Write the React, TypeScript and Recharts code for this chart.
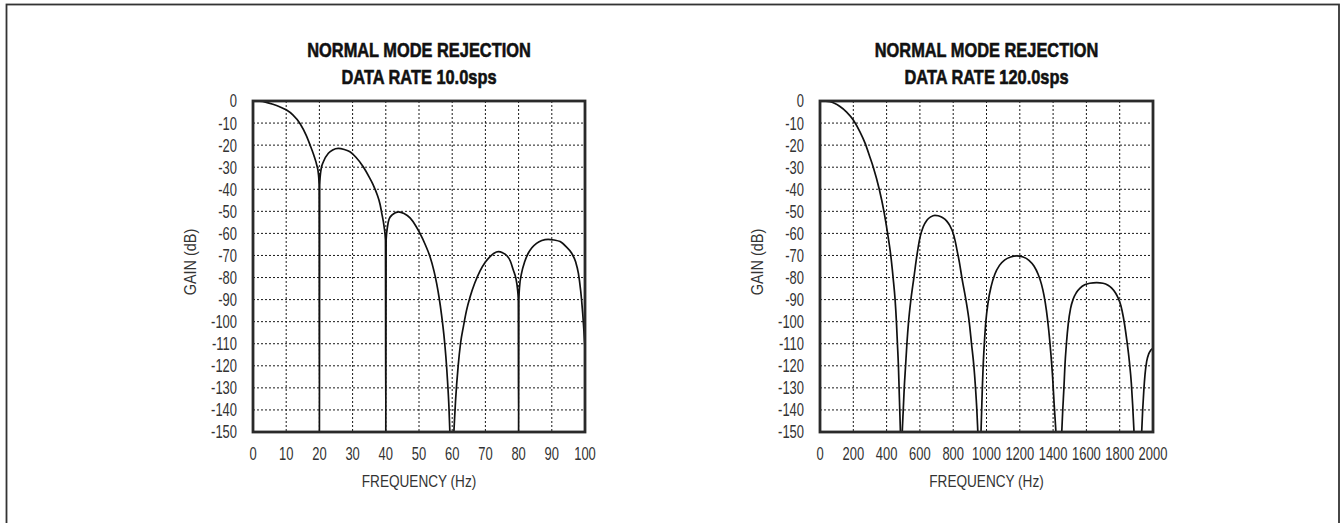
import React from 'react';
import { LineChart, Line, XAxis, YAxis, CartesianGrid } from 'recharts';

// ---- data ----
const leftFreq = [0, 2, 4, 6, 8, 10, 12, 14.2, 16, 17.2, 18.3, 19.2, 19.7, 19.92, 20, 20.08, 20.5, 21.2, 22.7, 24, 25.7, 27.5, 29.2, 31, 33.2, 35, 36.2, 37.3, 38.3, 38.8, 39.5, 39.9, 40, 40.1, 40.5, 41, 42, 43.8, 45.5, 47.3, 49, 50.3, 52, 53.3, 54.5, 55.3, 56.1, 56.8, 57.5, 58.1, 58.6, 59, 59.3, 59.9, 60.5, 61, 61.8, 62.5, 63.4, 64.3, 65.4, 66.8, 68.4, 70, 71.4, 72.6, 73.9, 75.2, 76.4, 77.5, 78.4, 79.2, 79.7, 79.92, 80, 80.08, 80.3, 80.9, 81.8, 82.9, 84, 85.4, 87, 88.9, 90.7, 92.5, 94.3, 96, 97.2, 98, 98.7, 99.3, 100];
const leftGain = [0, -0.1, -0.6, -1.5, -2.6, -4, -6.3, -10.3, -15.5, -20, -24.5, -29, -33, -38, -150, -38, -31, -27.5, -23.7, -22.2, -21.5, -22, -23, -25.5, -29.8, -34.5, -38, -42, -47, -51, -57, -63, -150, -63, -57, -53.5, -51.5, -50.2, -51, -53, -56.5, -60, -65.5, -70.5, -77, -82.5, -89.5, -97, -106, -116, -127, -138, -150, -165, -150, -136, -120, -110, -102, -95, -88.7, -82.5, -77, -73, -70.5, -69, -68.3, -68.8, -70, -72.5, -76.6, -80.5, -85.6, -90, -150, -90, -84, -78, -73, -69, -66.5, -64.5, -63.2, -62.7, -63, -63.7, -66, -69, -73, -78, -86, -96, -112];

const rightFreq = [0, 60, 120, 160, 200, 240, 270, 300, 320, 356, 384, 406, 425, 439, 451, 459, 465, 471, 475, 479, 483, 488, 494, 500, 506, 514, 522, 532, 546, 564, 582, 600, 620, 642, 665, 690, 710, 735, 760, 780, 798, 812, 824, 837, 852, 876, 896, 910, 924, 934, 942, 948, 957, 967, 971, 975, 980, 987, 996, 1010, 1028, 1050, 1078, 1110, 1145, 1181, 1220, 1255, 1285, 1310, 1330, 1345, 1360, 1374, 1386, 1397, 1406, 1417, 1434, 1452, 1458, 1465, 1471, 1480, 1491, 1505, 1522, 1540, 1562, 1590, 1620, 1662, 1700, 1730, 1752, 1775, 1792, 1808, 1822, 1842, 1858, 1870, 1878, 1886, 1909, 1932, 1938, 1945, 1952, 1962, 1975, 1986, 2000];
const rightGain = [0, -0.3, -2.5, -5, -8.6, -14, -19, -25.5, -30, -40, -50, -60, -70, -80, -90, -100, -110, -120, -130, -140, -150, -165, -150, -140, -130, -120, -110, -100, -90, -80, -70, -62, -57, -54, -52.5, -51.8, -52, -52.8, -54.3, -56.5, -59.5, -63.5, -68, -73, -80, -90, -100, -110, -120, -130, -140, -150, -165, -150, -140, -130, -120, -110, -100, -91, -84, -78.5, -74.5, -72, -70.7, -70.2, -70.7, -72.2, -74.8, -78.5, -83, -88, -95, -104, -114, -125, -137, -150, -175, -150, -140, -130, -120, -110, -101, -94, -89.5, -86.8, -84.8, -83.3, -82.6, -82.3, -82.6, -83.5, -84.8, -87, -89.5, -93, -98, -108, -118, -128, -138, -150, -172, -150, -140, -131, -124, -118, -114.5, -113, -112];

const leftTicksX = [0, 10, 20, 30, 40, 50, 60, 70, 80, 90, 100];
const rightTicksX = [0, 200, 400, 600, 800, 1000, 1200, 1400, 1600, 1800, 2000];
const ticksY = [0, -10, -20, -30, -40, -50, -60, -70, -80, -90, -100, -110, -120, -130, -140, -150];

const titleLine1 = 'NORMAL MODE REJECTION';
const leftTitle2 = 'DATA RATE 10.0sps';
const rightTitle2 = 'DATA RATE 120.0sps';
const xLabel = 'FREQUENCY (Hz)';
const yLabel = 'GAIN (dB)';

const FONT = "'Liberation Sans', Arial, sans-serif";
const TICK_SX = 0.72;

const leftData = leftFreq.map((f, i) => ({ f, g: leftGain[i] }));
const rightData = rightFreq.map((f, i) => ({ f, g: rightGain[i] }));

type NTProps = {
  x: number;
  y: number;
  text: string;
  anchor?: 'start' | 'middle' | 'end';
  size: number;
  weight?: string;
  fill?: string;
  dy?: string;
  rotate?: number;
  sx?: number;
  stroke?: number;
};

function NarrowText({ x, y, text, anchor = 'middle', size, weight = 'normal', fill = '#333', dy = '0', rotate = 0, sx = TICK_SX, stroke = 0 }: NTProps) {
  return (
    <g transform={`translate(${x},${y}) rotate(${rotate}) scale(${sx},1)`}>
      <text
        x={0}
        y={0}
        dy={dy}
        textAnchor={anchor}
        fontFamily={FONT}
        fontSize={size}
        fontWeight={weight}
        fill={fill}
        stroke={stroke ? fill : 'none'}
        strokeWidth={stroke}
      >
        {text}
      </text>
    </g>
  );
}

const XTick = (props: any) => {
  const { x, y, payload } = props;
  return <NarrowText x={x} y={y} text={String(payload.value)} anchor="middle" size={18} dy="0.71em" />;
};

const YTick = (props: any) => {
  const { x, y, payload } = props;
  return <NarrowText x={x} y={y} text={String(payload.value)} anchor="end" size={18} dy="0.36em" />;
};

type PanelProps = {
  data: { f: number; g: number }[];
  xMax: number;
  xTicks: number[];
  left: number;
  width: number;
  right: number;
};

function Panel({ data, xMax, xTicks, left, width, right }: PanelProps) {
  return (
    <div style={{ position: 'absolute', left, top: 0 }}>
      <LineChart
        width={width}
        height={523}
        data={data}
        margin={{ top: 101, right, bottom: 61, left: 208 }}
      >
        <CartesianGrid stroke="#1a1a1a" strokeDasharray="2 2" strokeWidth={1} />
        <XAxis
          dataKey="f"
          type="number"
          domain={[0, xMax]}
          ticks={xTicks}
          allowDataOverflow
          interval={0}
          height={30}
          axisLine={false}
          tickLine={false}
          tickSize={0}
          tickMargin={15}
          tick={XTick}
        />
        <YAxis
          dataKey="g"
          type="number"
          domain={[-150, 0]}
          ticks={ticksY}
          allowDataOverflow
          interval={0}
          width={45}
          axisLine={false}
          tickLine={false}
          tickSize={0}
          tickMargin={16}
          tick={YTick}
        />
        <Line
          type="monotone"
          dataKey="g"
          stroke="#111"
          strokeWidth={1.7}
          dot={false}
          activeDot={false}
          isAnimationActive={false}
        />
      </LineChart>
    </div>
  );
}

export default function App() {
  const plots = [
    { x: 253, w: 332, cx: 419 },
    { x: 820, w: 333, cx: 986.5 },
  ];
  const titles2 = [leftTitle2, rightTitle2];
  return (
    <div style={{ position: 'absolute', left: 0, top: 0, width: 1340, height: 523, background: '#fff', overflow: 'hidden' }}>
      <Panel data={leftData} xMax={100} xTicks={leftTicksX} left={0} width={620} right={35} />
      <Panel data={rightData} xMax={2000} xTicks={rightTicksX} left={567} width={620} right={34} />
      <svg
        width={1340}
        height={523}
        style={{ position: 'absolute', left: 0, top: 0, pointerEvents: 'none' }}
      >
        <rect x={6.5} y={4.5} width={1332.5} height={530} fill="none" stroke="#333" strokeWidth={1.8} />
        {plots.map((p, i) => (
          <g key={i}>
            <rect x={p.x} y={101} width={p.w} height={331} fill="none" stroke="#2a2a2a" strokeWidth={2.8} />
            <NarrowText x={p.cx} y={56.5} text={titleLine1} size={21} weight="bold" fill="#111" sx={0.78} stroke={0.6} />
            <NarrowText x={p.cx} y={83.5} text={titles2[i]} size={21} weight="bold" fill="#111" sx={0.78} stroke={0.6} />
            <NarrowText x={p.cx} y={487} text={xLabel} size={16} sx={0.85} />
            <NarrowText x={p.x - 63} y={262} text={yLabel} size={17} dy="0.35em" rotate={-90} sx={0.85} />
          </g>
        ))}
      </svg>
    </div>
  );
}
